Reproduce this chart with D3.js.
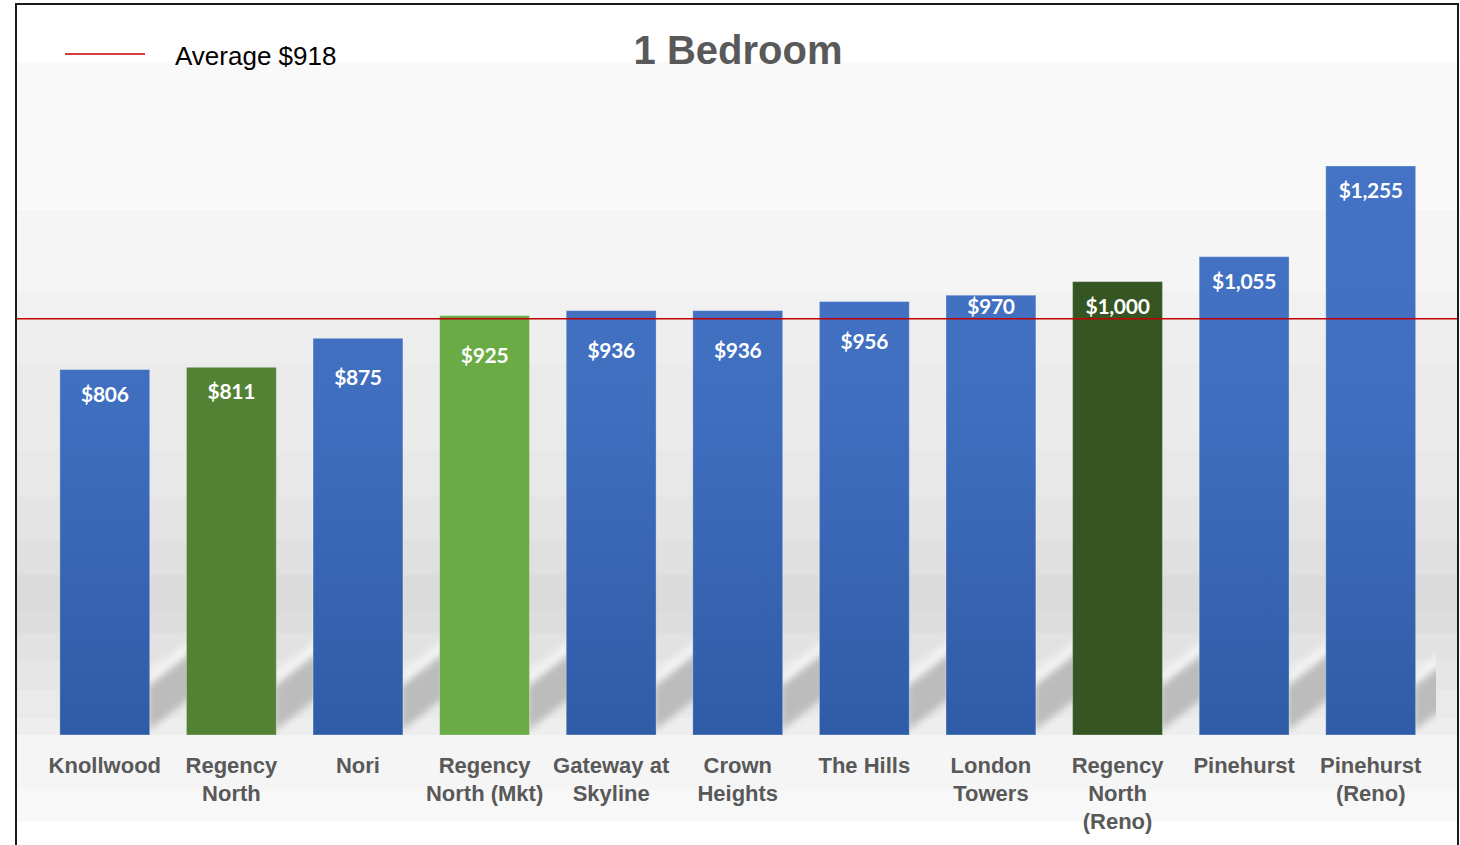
<!DOCTYPE html>
<html>
<head>
<meta charset="utf-8">
<script src="https://cdn.jsdelivr.net/npm/d3@7"></script>
<style>
  body { margin: 0; background: #fff; }
  svg { display: block; }
</style>
</head>
<body>
<svg></svg>
<script>
// data
let categories = ["Knollwood", "Regency North", "Nori", "Regency North (Mkt)", "Gateway at Skyline",
                  "Crown Heights", "The Hills", "London Towers", "Regency North (Reno)", "Pinehurst", "Pinehurst (Reno)"]
let rents = [806, 811, 875, 925, 936, 936, 956, 970, 1000, 1055, 1255]
let groups = ["comp", "own", "comp", "ownMkt", "comp", "comp", "comp", "comp", "ownReno", "comp", "comp"]
let average = 918
let title = "1 Bedroom"

let w = 1460
let h = 845
let base = 735
let svg = d3.select("svg").attr("width", w).attr("height", h)
let money = d3.format("$,")

let colors = { comp: "url(#blueFill)", own: "#548235", ownMkt: "#6aab46", ownReno: "#355622" }

let xScale = d3.scaleBand()
               .domain(categories)
               .range([41.5, 1434])
               .paddingInner(0.29)
               .paddingOuter(0.145)

let yScale = d3.scaleLinear()
               .domain([0, 1255])
               .range([base, 166])

let defs = svg.append("defs")

// banded grey plot background
let bands = [[62, "#f9f9f9"], [210, "#f5f5f5"], [292, "#f1f1f1"], [320, "#eeeeee"], [362, "#ebebeb"],
             [450, "#e8e8e8"], [497, "#e4e4e4"], [540, "#e0e0e0"], [575, "#dbdbdb"], [612, "#dddddd"],
             [633, "#e2e2e2"], [660, "#e6e6e6"], [690, "#eaeaea"], [718, "#eeeeee"], [735, "#f5f5f5"],
             [790, "#f8f8f8"], [822, "#f8f8f8"]]
let bg = defs.append("linearGradient")
             .attr("id", "bgFill")
             .attr("gradientUnits", "userSpaceOnUse")
             .attr("x1", 0).attr("x2", 0).attr("y1", 62).attr("y2", 822)
bands.slice(0, -1).forEach((b, i) => {
  bg.append("stop").attr("offset", (b[0] - 62) / 760).attr("stop-color", b[1])
  bg.append("stop").attr("offset", (bands[i + 1][0] - 62) / 760).attr("stop-color", b[1])
})

let blue = defs.append("linearGradient")
               .attr("id", "blueFill")
               .attr("gradientUnits", "userSpaceOnUse")
               .attr("x1", 0).attr("x2", 0).attr("y1", 166).attr("y2", base)
blue.append("stop").attr("offset", 0).attr("stop-color", "#4472c4")
blue.append("stop").attr("offset", 0.4).attr("stop-color", "#406fc0")
blue.append("stop").attr("offset", 0.75).attr("stop-color", "#3664b1")
blue.append("stop").attr("offset", 1).attr("stop-color", "#2e5ca6")

defs.append("filter").attr("id", "soft")
    .attr("x", "-30%").attr("y", "-30%").attr("width", "160%").attr("height", "160%")
    .append("feGaussianBlur").attr("stdDeviation", 3.5)

defs.append("clipPath").attr("id", "plotClip")
    .append("rect")
    .attr("x", 17).attr("y", 62)
    .attr("width", 1436 - 17).attr("height", base - 62)

svg.append("rect")
   .attr("x", 17).attr("y", 62)
   .attr("width", 1440).attr("height", 760)
   .attr("fill", "url(#bgFill)")

// perspective shadows cast to the right of every bar
let bw = xScale.bandwidth()
let slope = 0.8
let reach = 60
let shadowG = svg.append("g").attr("clip-path", "url(#plotClip)")

shadowG.selectAll(".glow")
   .data(categories)
   .enter()
   .append("polygon")
   .attr("class", "glow")
   .attr("points", (d) => {
     let x1 = xScale(d) + bw
     return [[x1 - 2, base - 46], [x1 - 2, base - 62], [x1 + reach, base - 62 - reach * slope], [x1 + reach, base - 46 - reach * slope]].join(" ")
   })
   .attr("fill", "#f3f3f3")
   .attr("filter", "url(#soft)")

shadowG.selectAll(".shadow")
   .data(categories)
   .enter()
   .append("polygon")
   .attr("class", "shadow")
   .attr("points", (d) => {
     let x1 = xScale(d) + bw
     return [[x1 - 2, base - 4], [x1 - 2, base - 48], [x1 + reach, base - 48 - reach * slope], [x1 + reach, base - 4 - reach * slope]].join(" ")
   })
   .attr("fill", "#bcbcbc")
   .attr("filter", "url(#soft)")

// bars
svg.selectAll(".bar")
   .data(categories)
   .enter()
   .append("rect")
   .attr("class", "bar")
   .attr("x", (d) => xScale(d))
   .attr("y", (d, i) => yScale(rents[i]))
   .attr("width", bw)
   .attr("height", (d, i) => base - yScale(rents[i]))
   .attr("fill", (d, i) => colors[groups[i]])
   .attr("stroke", "rgba(255,255,255,0.3)")
   .attr("stroke-width", 1)

// average line
let lineY = yScale(average)
svg.append("line")
   .attr("x1", 17).attr("x2", 1457)
   .attr("y1", lineY).attr("y2", lineY)
   .attr("stroke", "#c00000")
   .attr("stroke-width", 1.5)

// value labels, kept clear of the average line
svg.selectAll(".value")
   .data(categories)
   .enter()
   .append("text")
   .attr("class", "value")
   .attr("x", (d) => xScale(d) + bw / 2)
   .attr("y", (d, i) => {
     let top = yScale(rents[i])
     let gap = top - lineY
     if (gap > -20 && gap < 22) return top + 47
     if (gap >= -30 && gap <= -20) return Math.min(top + 24, lineY - 5)
     return top + 32
   })
   .attr("text-anchor", "middle")
   .style("font-family", "Lato, 'Open Sans', sans-serif")
   .style("font-weight", 700)
   .style("font-size", "21px")
   .style("letter-spacing", "-0.3px")
   .style("fill", "#ffffff")
   .text((d, i) => money(rents[i]))

// category axis
let xAxis = d3.axisBottom(xScale).tickSize(0).tickPadding(0)
let axisG = svg.append("g")
               .attr("transform", `translate(0, ${base})`)
               .call(xAxis)
axisG.select(".domain").remove()
axisG.selectAll("text")
     .attr("y", 38)
     .attr("dy", 0)
     .style("font-family", "'Liberation Sans', Arial, Helvetica, sans-serif")
     .style("font-weight", 700)
     .style("font-size", "22px")
     .style("fill", "#595959")
     .each(function (d) {
       let t = d3.select(this)
       let words = d.split(" ")
       t.text(null)
       let lines = []
       let line = []
       let probe = t.append("tspan")
       words.forEach((word) => {
         line.push(word)
         probe.text(line.join(" "))
         if (probe.node().getComputedTextLength() > 126 && line.length > 1) {
           line.pop()
           lines.push(line.join(" "))
           line = [word]
         }
       })
       lines.push(line.join(" "))
       probe.remove()
       lines.forEach((l, k) => {
         t.append("tspan")
          .attr("x", 0)
          .attr("y", 38 + k * 28)
          .text(l)
       })
     })

// title
svg.append("text")
   .attr("x", 738)
   .attr("y", 64)
   .attr("text-anchor", "middle")
   .style("font-family", "'Liberation Sans', Arial, Helvetica, sans-serif")
   .style("font-weight", 700)
   .style("font-size", "40px")
   .style("fill", "#595959")
   .text(title)

// legend
svg.append("line")
   .attr("x1", 65).attr("x2", 145)
   .attr("y1", 54).attr("y2", 54)
   .attr("stroke", "#c00000")
   .attr("stroke-width", 1.5)

svg.append("text")
   .attr("x", 175)
   .attr("y", 65)
   .style("font-family", "'Liberation Sans', Arial, Helvetica, sans-serif")
   .style("font-size", "26px")
   .style("fill", "#000")
   .text("Average " + money(average))

// frame
svg.append("rect")
   .attr("x", 16).attr("y", 4)
   .attr("width", 1442).attr("height", 900)
   .attr("fill", "none")
   .attr("stroke", "#1a1a1a")
   .attr("stroke-width", 2)
</script>
</body>
</html>
